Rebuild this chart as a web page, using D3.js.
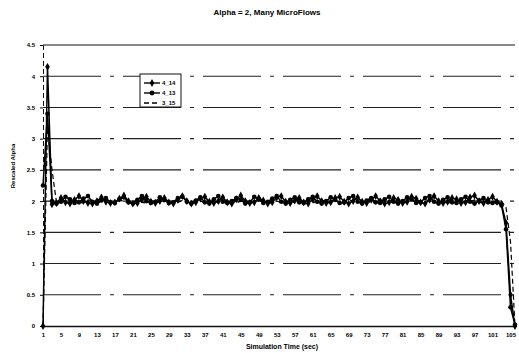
<!DOCTYPE html>
<html><head><meta charset="utf-8">
<script src="https://cdn.jsdelivr.net/npm/d3@7"></script>
<style>body{margin:0;background:#fff}svg{display:block}text{font-family:"Liberation Sans",Arial,sans-serif;fill:#000}</style>
</head><body><svg id="c" width="519" height="353"></svg>
<script>
const title = "Alpha = 2, Many MicroFlows";
const xTitle = "Simulation Time (sec)";
const yTitle = "Rescaled Alpha";
const seriesNames = ["4_14", "4_13", "3_15"];
const yTicks = [0, 0.5, 1, 1.5, 2, 2.5, 3, 3.5, 4, 4.5];
const xTickLabels = [1,5,9,13,17,21,25,29,33,37,41,45,49,53,57,61,65,69,73,77,81,85,89,93,97,101,105];
const s4_14 = [
 0, 4.15, 1.95, 1.97, 2.05, 1.98, 1.96, 2.02, 2.08, 2.00,
 1.97, 1.96, 2.00, 2.06, 1.99, 1.97, 1.98, 2.04, 2.09, 2.00,
 1.96, 1.97, 2.03, 2.07, 1.99, 1.97, 2.00, 2.05, 1.98, 1.96,
 2.02, 2.08, 2.00, 1.96, 1.98, 2.04, 2.07, 1.99, 1.97, 2.00,
 2.06, 1.98, 1.96, 2.03, 2.09, 2.00, 1.97, 1.98, 2.05, 2.01,
 1.96, 1.98, 2.06, 2.08, 1.99, 1.97, 2.01, 2.05, 1.98, 1.96,
 2.03, 2.08, 2.00, 1.97, 1.98, 2.05, 2.07, 1.99, 1.96, 2.00,
 2.06, 1.99, 1.97, 2.02, 2.08, 2.00, 1.96, 1.98, 2.05, 2.02,
 1.97, 1.99, 2.07, 2.04, 1.98, 1.96, 2.02, 2.08, 2.00, 1.97,
 1.99, 2.05, 2.03, 1.97, 1.98, 2.06, 2.09, 2.00, 1.97, 2.02,
 2.07, 1.99, 1.95, 1.65, 0.50, 0
];
const s4_13 = [
 2.25, 3.40, 2.00, 1.96, 1.99, 2.07, 2.03, 1.97, 1.98, 2.04,
 2.08, 1.99, 1.96, 2.01, 2.05, 1.98, 1.97, 2.03, 2.06, 1.98,
 1.96, 2.02, 2.08, 2.00, 1.97, 1.99, 2.06, 2.02, 1.97, 1.98,
 2.05, 2.07, 1.99, 1.96, 2.01, 2.06, 1.98, 1.96, 2.03, 2.08,
 1.99, 1.97, 2.00, 2.05, 2.02, 1.96, 1.98, 2.07, 2.03, 1.97,
 1.99, 2.04, 2.08, 1.99, 1.96, 2.02, 2.06, 1.98, 1.97, 2.03,
 2.07, 1.99, 1.96, 2.00, 2.06, 2.02, 1.97, 1.98, 2.05, 2.08,
 1.99, 1.96, 2.01, 2.05, 1.98, 1.97, 2.03, 2.07, 1.99, 1.96,
 2.00, 2.06, 2.03, 1.97, 1.98, 2.05, 2.08, 1.99, 1.96, 2.02,
 2.06, 1.98, 1.97, 2.03, 2.07, 1.99, 1.96, 2.01, 2.05, 1.98,
 1.97, 1.98, 1.93, 1.55, 0.30, 0.02
];
const s3_15 = [
 0.00, 3.20, 2.50, 1.98, 2.01, 1.97, 1.99, 2.03, 1.98, 1.97,
 2.02, 2.01, 1.98, 1.99, 2.02, 1.97, 1.98, 2.01, 2.00, 1.97,
 1.99, 2.02, 1.98, 1.97, 2.01, 2.00, 1.98, 1.99, 2.02, 1.97,
 1.98, 2.01, 1.99, 1.97, 2.02, 2.00, 1.98, 1.99, 2.01, 1.97,
 1.98, 2.02, 1.99, 1.97, 2.00, 2.01, 1.98, 1.99, 2.02, 1.98,
 1.97, 2.01, 2.00, 1.98, 1.99, 2.02, 1.97, 1.98, 2.01, 1.99,
 1.97, 2.00, 2.02, 1.98, 1.99, 2.01, 1.97, 1.98, 2.02, 2.00,
 1.98, 1.99, 2.01, 1.97, 1.98, 2.02, 2.00, 1.98, 1.99, 2.01,
 1.97, 1.98, 2.02, 1.99, 1.97, 2.00, 2.01, 1.98, 1.99, 2.02,
 1.97, 1.98, 2.01, 2.00, 1.98, 1.99, 2.02, 1.97, 1.98, 2.01,
 2.00, 1.99, 2.00, 1.90, 1.35, 0.00
];

const svg = d3.select("#c");
const L = 43, R = 515, T = 45, B = 326;
const x = d3.scaleLinear().domain([1, s4_14.length]).range([L, R]);
const y = d3.scaleLinear().domain([0, 4.5]).range([B, T]);

// gridlines
svg.append("g").selectAll("line").data(yTicks.filter(v => v > 0 && v < 4.5)).join("line")
  .attr("x1", L).attr("x2", R).attr("y1", d => y(d)).attr("y2", d => y(d))
  .attr("stroke", "#222").attr("stroke-width", 1.1).attr("stroke-dasharray", "58,9,4,9");
// top line
svg.append("line").attr("x1", L).attr("x2", R).attr("y1", y(4.5)).attr("y2", y(4.5))
  .attr("stroke", "#111").attr("stroke-width", 1.2);

// y axis
const ya = svg.append("g").attr("transform", `translate(${L},0)`)
  .call(d3.axisLeft(y).tickValues(yTicks).tickSize(3).tickFormat(d => d));
ya.select(".domain").attr("stroke", "#111").attr("stroke-dasharray", "5,3");
ya.selectAll("text").attr("font-size", 6).attr("font-weight", "bold").attr("x", -8);
// x axis
const xa = svg.append("g").attr("transform", `translate(0,${B})`)
  .call(d3.axisBottom(x).tickValues(xTickLabels).tickSize(0).tickFormat(d => d));
xa.select(".domain").attr("stroke", "#111").attr("stroke-width", 1.5);
xa.selectAll("text").attr("font-size", 6).attr("font-weight", "bold").attr("dy", "0.9em").attr("y", 6);

// series
const line = d3.line().x((d, i) => x(i + 1)).y(d => y(d));
const all = [s4_14, s4_13, s3_15];
const dashes = [null, null, "5,3"];
const widths = [1.5, 1.5, 1.2];
all.forEach((s, k) => {
  svg.append("path").datum(s).attr("d", line).attr("fill", "none")
    .attr("stroke", "#000").attr("stroke-width", widths[k])
    .attr("stroke-dasharray", dashes[k]);
});
const diamond = d3.symbol().type(d3.symbolDiamond).size(18);
svg.append("g").selectAll("path").data(s4_14).join("path")
  .attr("d", diamond).attr("transform", (d, i) => `translate(${x(i + 1)},${y(d)})`).attr("fill", "#000");
svg.append("g").selectAll("circle").data(s4_13).join("circle")
  .attr("cx", (d, i) => x(i + 1)).attr("cy", d => y(d)).attr("r", 2.3).attr("fill", "#000");

// legend
const lg = svg.append("g").attr("transform", "translate(140,74)");
lg.append("rect").attr("width", 41).attr("height", 33).attr("fill", "#fff").attr("stroke", "#111").attr("stroke-width", 1);
seriesNames.forEach((n, k) => {
  const yy = 9 + k * 10;
  lg.append("line").attr("x1", 4).attr("x2", 20).attr("y1", yy).attr("y2", yy)
    .attr("stroke", "#000").attr("stroke-width", 1.4).attr("stroke-dasharray", dashes[k]);
  if (k === 0) lg.append("path").attr("d", diamond).attr("transform", `translate(12,${yy})`);
  if (k === 1) lg.append("circle").attr("cx", 12).attr("cy", yy).attr("r", 2.4);
  lg.append("text").attr("x", 22).attr("y", yy).attr("dy", "0.35em").attr("font-size", 6).attr("font-weight", "bold").text(n);
});

// titles
svg.append("text").attr("x", 267).attr("y", 15).attr("text-anchor", "middle")
  .attr("font-size", 8).attr("font-weight", "bold").text(title);
svg.append("text").attr("x", 282).attr("y", 349).attr("text-anchor", "middle")
  .attr("font-size", 7).attr("font-weight", "bold").text(xTitle);
svg.append("text").attr("transform", "translate(15,166) rotate(-90)").attr("text-anchor", "middle")
  .attr("font-size", 6).attr("font-weight", "bold").text(yTitle);
</script></body></html>
